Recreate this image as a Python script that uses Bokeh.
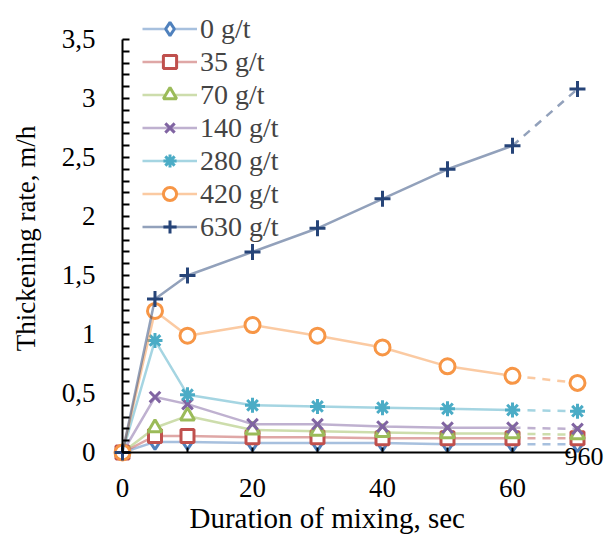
from bokeh.plotting import figure
from bokeh.models import Range1d, FixedTicker, Legend, LegendItem, LinearAxis, Title
from bokeh.core.properties import value
from bokeh.embed import file_html
from bokeh.resources import INLINE

# x positions of the measurements (the last position stands for 960 s, shown after an axis break)
duration_pos = [0, 5, 10, 20, 30, 40, 50, 60, 70]
break_label = "960"

series_names = ["0 g/t", "35 g/t", "70 g/t", "140 g/t", "280 g/t", "420 g/t", "630 g/t"]
rate_0 = [0, 0.09, 0.09, 0.08, 0.08, 0.08, 0.07, 0.07, 0.07]
rate_35 = [0, 0.14, 0.14, 0.13, 0.13, 0.12, 0.12, 0.12, 0.12]
rate_70 = [0, 0.21, 0.31, 0.19, 0.18, 0.17, 0.16, 0.16, 0.15]
rate_140 = [0, 0.47, 0.41, 0.24, 0.24, 0.22, 0.21, 0.21, 0.20]
rate_280 = [0, 0.95, 0.49, 0.40, 0.39, 0.38, 0.37, 0.36, 0.35]
rate_420 = [0, 1.20, 0.99, 1.08, 0.99, 0.89, 0.73, 0.65, 0.59]
rate_630 = [0, 1.30, 1.50, 1.70, 1.90, 2.15, 2.40, 2.60, 3.08]

y_ticks = [0, 0.5, 1, 1.5, 2, 2.5, 3, 3.5]
y_tick_labels = ["0", "0,5", "1", "1,5", "2", "2,5", "3", "3,5"]
y_minor = [round(0.1 * i, 1) for i in range(36)]
x_ticks = [0, 20, 40, 60]
x_all_ticks = [0, 10, 20, 30, 40, 50, 60]

series = [rate_0, rate_35, rate_70, rate_140, rate_280, rate_420, rate_630]
colors = ["#4F81BD", "#C0504D", "#9BBB59", "#8064A2", "#4BACC6", "#F79646", "#264478"]
markers = ["diamond", "square", "triangle", "x", "asterisk", "circle", "cross"]
sizes = [15, 13, 14, 15, 15, 15, 16]
hollow = [True, True, True, False, False, True, False]

FONT = "Liberation Serif"

p = figure(width=605, height=536, output_backend="svg", toolbar_location=None,
           x_range=Range1d(-1.538, 74.31), y_range=Range1d(-0.1356, 3.7627),
           min_border_left=112, min_border_right=0, min_border_top=8, min_border_bottom=68)
p.grid.visible = False
p.outline_line_color = None
p.background_fill_color = "white"

items = []
for name, ys, col, mk, sz, hol in zip(series_names, series, colors, markers, sizes, hollow):
    solid = p.line(duration_pos[:8], ys[:8], line_color=col, line_alpha=0.5, line_width=2.5)
    p.line(duration_pos[7:], ys[7:], line_color=col, line_alpha=0.5, line_width=2.5, line_dash="8 7")
    sc = p.scatter(duration_pos, ys, marker=mk, size=sz, line_color=col, line_width=3,
                   fill_color="white" if hol else col)
    items.append(LegendItem(label=name, renderers=[solid, sc]))

p.text(x=[duration_pos[-1]], y=[0], text=[break_label], text_font=value(FONT),
       text_font_size="26px", text_align="left", text_baseline="middle",
       x_offset=-13, y_offset=4, text_color="black")

legend = Legend(items=items, location=(30, 225), background_fill_alpha=0,
                border_line_color=None, label_text_font=FONT, label_text_font_size="28px",
                glyph_width=55, glyph_height=33, label_height=33, spacing=0,
                padding=0, margin=0, label_standoff=3)
p.add_layout(legend)

# label-only axes on the frame edges (text + titles)
for ax in (p.xaxis[0], p.yaxis[0]):
    ax.axis_line_color = None
    ax.major_tick_line_color = None
    ax.minor_tick_line_color = None
    ax.major_tick_in = 0
    ax.major_tick_out = 0
    ax.minor_tick_in = 0
    ax.minor_tick_out = 0
    ax.major_label_text_font = FONT
    ax.major_label_text_font_size = "27px"
    ax.major_label_text_color = "black"
    ax.axis_label_text_font = FONT
    ax.axis_label_text_font_style = "normal"
    ax.axis_label_text_color = "black"

p.yaxis.ticker = FixedTicker(ticks=y_ticks)
p.yaxis.bounds = (0, 3.5)
p.yaxis.major_label_overrides = {t: l for t, l in zip(y_ticks, y_tick_labels)}
p.yaxis.major_label_standoff = 17
p.yaxis.axis_label = "Thickening rate, m/h"
p.yaxis.axis_label_text_font_size = "27px"
p.yaxis.axis_label_standoff = 18

p.xaxis.ticker = FixedTicker(ticks=x_ticks)
p.xaxis.major_label_standoff = 10

# axis lines and tick marks placed at x = 0 and y = 0 (tick marks only, no labels)
yline = LinearAxis(fixed_location=0, bounds=(0, 3.5),
                   ticker=FixedTicker(ticks=[], minor_ticks=y_minor))
xline = LinearAxis(fixed_location=0, bounds=(0, 69),
                   ticker=FixedTicker(ticks=[], minor_ticks=x_all_ticks))
for ax, tick_len in ((yline, 7), (xline, 5)):
    ax.axis_line_color = "black"
    ax.axis_line_width = 2
    ax.major_tick_line_color = None
    ax.minor_tick_line_color = "black"
    ax.minor_tick_line_width = 2
    ax.major_tick_in = 0
    ax.major_tick_out = 0
    ax.minor_tick_in = tick_len
    ax.minor_tick_out = 0
    ax.major_label_standoff = 0
p.add_layout(yline, "left")
p.add_layout(xline, "below")

x_title = Title(text="Duration of mixing, sec", align="left", offset=77, standoff=0,
                text_font=FONT, text_font_size="29px", text_font_style="normal",
                text_color="black")
p.add_layout(x_title, "below")

open("out.html", "w").write(file_html(p, INLINE))
